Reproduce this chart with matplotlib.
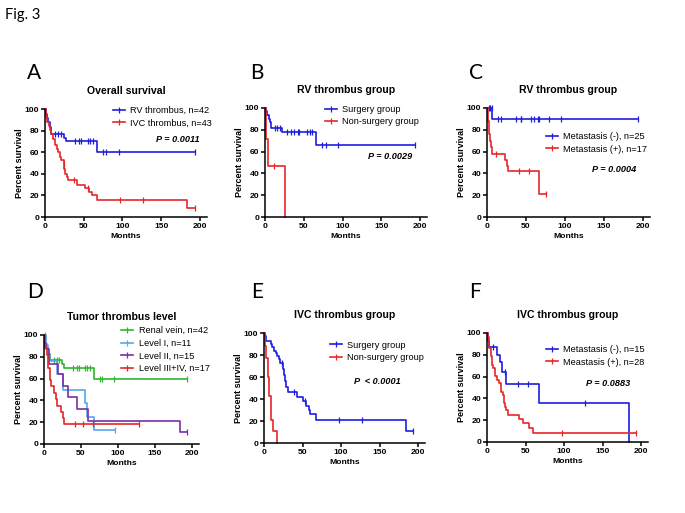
import numpy as np
import matplotlib
matplotlib.use("Agg")
import matplotlib.pyplot as plt
from matplotlib.lines import Line2D

plt.rcParams['font.family'] = ['Liberation Sans', 'DejaVu Sans']

# ---------------- data ----------------
# Panel A: overall survival
A_rv_t = [1, 2, 4, 6, 8, 24, 27, 67]
A_rv_s = [95, 92, 88, 83, 77, 73, 70, 60]
A_rv_c = [13, 17, 20, 39, 44, 47, 56, 58, 62, 75, 79, 95, 193]
A_rv_end = 193
A_ivc_t = [1, 3, 5, 7, 8, 10, 13, 15, 17, 19, 21, 24, 25, 26, 28, 30, 41, 52, 57, 60, 67, 183]
A_ivc_s = [93, 88, 84, 81, 77, 72, 67, 63, 60, 56, 53, 49, 44, 40, 37, 34, 30, 27, 23, 20, 16, 8]
A_ivc_c = [24, 38, 55, 97, 127, 193]
A_ivc_end = 193

# Panel B: RV thrombus group, surgery
B_sur_t = [1, 3, 5, 6, 8, 22, 66]
B_sur_s = [97, 94, 90, 87, 82, 78, 66]
B_sur_c = [13, 16, 19, 28, 34, 38, 42, 44, 54, 58, 61, 74, 79, 94, 193]
B_sur_end = 193
B_non_t = [1, 4, 26]
B_non_s = [72, 47, 0]
B_non_c = [11]
B_non_end = 26

# Panel C: RV thrombus group, metastasis
C_neg_t = [7]
C_neg_s = [90]
C_neg_c = [2, 4, 6, 14, 18, 37, 43, 44, 56, 60, 65, 67, 80, 95, 193]
C_neg_end = 193
C_pos_t = [1, 2, 3, 4, 5, 7, 23, 25, 27, 67]
C_pos_s = [88, 82, 76, 70, 64, 58, 52, 47, 42, 21]
C_pos_c = [11, 41, 54, 75]
C_pos_end = 75

# Panel D: tumor thrombus level
D_ren_t = A_rv_t
D_ren_s = A_rv_s
D_ren_c = A_rv_c
D_ren_end = 193
D_l1_t = [3, 5, 8, 18, 25, 55, 58, 67]
D_l1_s = [91, 82, 76, 64, 50, 37.5, 25, 12.5]
D_l1_c = [2, 96]
D_l1_end = 96
D_l2_t = [1, 3, 7, 19, 25, 33, 44, 60, 184]
D_l2_s = [93, 87, 73, 64, 53, 43, 32, 21, 10.7]
D_l2_c = [193]
D_l2_end = 193
D_l3_t = [1, 2, 4, 6, 8, 10, 13, 16, 18, 23, 25, 27]
D_l3_s = [94, 88, 82, 70, 59, 53, 47, 41, 35, 29, 24, 18]
D_l3_c = [42, 53, 66, 128]
D_l3_end = 128

# Panel E: IVC thrombus group, surgery
E_sur_t = [1, 3, 9, 11, 13, 15, 17, 19, 21, 25, 26, 27, 28, 31, 43, 50, 55, 58, 60, 68, 184]
E_sur_s = [97, 93, 90, 87, 84, 82, 79, 76, 73, 67, 62, 56, 51, 46, 42, 38, 34, 30, 26, 21, 10.5]
E_sur_c = [23, 39, 53, 97, 127, 193]
E_sur_end = 193
E_non_t = [1, 3, 5, 7, 9, 12, 17]
E_non_s = [88, 77, 60, 43, 21, 10.5, 0]
E_non_c = []
E_non_end = 17

# Panel F: IVC thrombus group, metastasis
F_neg_t = [1, 3, 13, 17, 20, 25, 68, 184]
F_neg_s = [93, 87, 80, 73, 64, 53, 35.5, 0]
F_neg_c = [8, 23, 40, 53, 127]
F_neg_end = 184
F_pos_t = [1, 2, 3, 5, 6, 8, 10, 13, 15, 18, 21, 22, 24, 25, 27, 42, 47, 54, 60]
F_pos_s = [96, 89, 86, 79, 71, 68, 61, 57, 54, 46, 43, 36, 32, 29, 25, 21, 17, 13, 8.5]
F_pos_c = [97, 193]
F_pos_end = 193

x_ticks = [0, 50, 100, 150, 200]
y_ticks = [0, 20, 40, 60, 80, 100]

BLUE = '#1e1ee0'
RED = '#e8262a'
GREEN = '#2fb52f'
LBLUE = '#55a8ec'
PURPLE = '#7a2fa8'

# ---------------- figure ----------------
W, H = 685, 513
fig = plt.figure(figsize=(W / 100, H / 100), dpi=100)


def px_axes(x0, x200, ytop, ybot):
    xmax = 209
    width = (x200 - x0) / 200 * xmax
    return fig.add_axes([x0 / W, 1 - ybot / H, width / W, (ybot - ytop) / H])


def km(ax, t, s, c, end, color):
    x = np.array([0] + list(t) + [end], dtype=float)
    y = np.array([100] + list(s) + [s[-1]], dtype=float)
    ax.step(x, y, where='post', color=color, lw=1.2, clip_on=False)
    if len(c):
        c = np.asarray(c, dtype=float)
        idx = np.searchsorted(x[:-1], c, side='right') - 1
        ax.plot(c, y[idx], ls='none', marker='|', ms=4.5, mew=0.9, color=color, clip_on=False)


def style(ax):
    ax.set_xlim(0, 209)
    ax.set_ylim(0, 100)
    ax.set_xticks(x_ticks)
    ax.set_yticks(y_ticks)
    for sp in ['top', 'right']:
        ax.spines[sp].set_visible(False)
    for sp in ['left', 'bottom']:
        ax.spines[sp].set_linewidth(1.1)
    ax.tick_params(length=3, width=1.1, labelsize=6.1, pad=1.2)
    for lab in ax.get_xticklabels() + ax.get_yticklabels():
        lab.set_fontweight('bold')
    ax.set_ylabel('Percent survival', fontsize=6.5, fontweight='bold', labelpad=0.8)
    ax.set_xlabel('Months', fontsize=6.1, fontweight='bold', labelpad=2)


def legend(ax, labels, colors, x, y):
    handles = [Line2D([0], [0], color=col, lw=1.2, marker='|', ms=4.5, mew=0.9) for col in colors]
    ax.legend(handles, labels, loc='upper left', bbox_to_anchor=(x, y), frameon=False,
              fontsize=6.6, handlelength=1.3, handletextpad=0.6, labelspacing=0.4,
              borderpad=0, borderaxespad=0, numpoints=1)


def pval(ax, txt, x, y):
    ax.text(x, y, txt, transform=ax.transAxes, ha='right', va='center',
            fontsize=6.6, fontweight='bold', fontstyle='italic')


panels = {
    'A': dict(pos=(45, 200, 109, 217), title='Overall survival',
              curves=[(A_rv_t, A_rv_s, A_rv_c, A_rv_end, BLUE), (A_ivc_t, A_ivc_s, A_ivc_c, A_ivc_end, RED)],
              labels=['RV thrombus, n=42', 'IVC thrombus, n=43'], leg=(0.42, 1.03),
              p='P = 0.0011', ppos=(0.957, 0.713), letter=(27, 73)),
    'B': dict(pos=(265, 420, 108, 217), title='RV thrombus group',
              curves=[(B_sur_t, B_sur_s, B_sur_c, B_sur_end, BLUE), (B_non_t, B_non_s, B_non_c, B_non_end, RED)],
              labels=['Surgery group', 'Non-surgery group'], leg=(0.37, 1.03),
              p='P = 0.0029', ppos=(0.907, 0.556), letter=(250, 73)),
    'C': dict(pos=(487, 643, 108, 217), title='RV thrombus group',
              curves=[(C_neg_t, C_neg_s, C_neg_c, C_neg_end, BLUE), (C_pos_t, C_pos_s, C_pos_c, C_pos_end, RED)],
              labels=['Metastasis (-), n=25', 'Metastasis (+), n=17'], leg=(0.36, 0.78),
              p='P = 0.0004', ppos=(0.914, 0.435), letter=(469, 73)),
    'D': dict(pos=(44, 192, 335, 444), title='Tumor thrombus level',
              curves=[(D_ren_t, D_ren_s, D_ren_c, D_ren_end, GREEN), (D_l1_t, D_l1_s, D_l1_c, D_l1_end, LBLUE),
                      (D_l2_t, D_l2_s, D_l2_c, D_l2_end, PURPLE), (D_l3_t, D_l3_s, D_l3_c, D_l3_end, RED)],
              labels=['Renal vein, n=42', 'Level I, n=11', 'Level II, n=15', 'Level III+IV, n=17'],
              leg=(0.50, 1.08), p=None, letter=(27, 292)),
    'E': dict(pos=(264, 418, 333, 443), title='IVC thrombus group',
              curves=[(E_sur_t, E_sur_s, E_sur_c, E_sur_end, BLUE), (E_non_t, E_non_s, E_non_c, E_non_end, RED)],
              labels=['Surgery group', 'Non-surgery group'], leg=(0.41, 0.93),
              p='P  < 0.0001', ppos=(0.85, 0.56), letter=(251, 292)),
    'F': dict(pos=(487, 641, 333, 442), title='IVC thrombus group',
              curves=[(F_neg_t, F_neg_s, F_neg_c, F_neg_end, BLUE), (F_pos_t, F_pos_s, F_pos_c, F_pos_end, RED)],
              labels=['Metastasis (-), n=15', 'Meastasis (+), n=28'], leg=(0.366, 0.89),
              p='P = 0.0883', ppos=(0.888, 0.54), letter=(469, 292)),
}

for key, cfg in panels.items():
    ax = px_axes(*cfg['pos'])
    for (t, s, c, end, col) in cfg['curves']:
        km(ax, t, s, c, end, col)
    style(ax)
    ax.set_title(cfg['title'], fontsize=7.6, fontweight='bold', pad=11)
    legend(ax, cfg['labels'], [cv[4] for cv in cfg['curves']], *cfg['leg'])
    if cfg['p']:
        pval(ax, cfg['p'], *cfg['ppos'])
    lx, ly = cfg['letter']
    fig.text(lx / W, 1 - ly / H, key, fontsize=15, family=['Lato', 'DejaVu Sans'], va='center', ha='left')

fig.text(5 / W, 1 - 15 / H, 'Fig. 3', fontsize=10.5, family=['Lato', 'DejaVu Sans'], va='center', ha='left')

fig.savefig('out.png', dpi=100)
